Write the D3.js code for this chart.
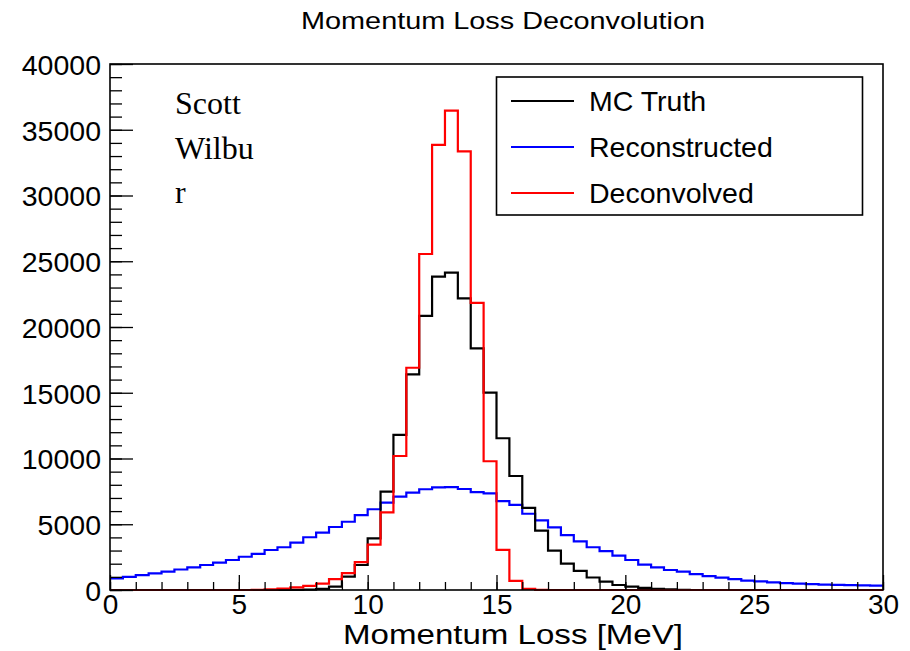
<!DOCTYPE html>
<html><head><meta charset="utf-8">
<script src="https://cdn.jsdelivr.net/npm/d3@7"></script>
<style>
html,body{margin:0;padding:0;background:#fff;}
svg{display:block;}
text{font-family:"Liberation Sans",Arial,Helvetica,sans-serif;fill:#000;}
</style></head>
<body>
<svg id="chart" width="910" height="651"></svg>
<script>
// ---- data ----
const binWidth = 0.5;
const binEdges = d3.range(0, 30, binWidth);   // lower edges of 60 bins, 0..29.5
const mcTruth = [0,0,0,0,0,0,0,0,0,0, 0,0,0,0,10,30,90,260,1010,1900,
  3930,7480,11790,16400,20840,23830,24130,22180,18380,15010,
  11540,8670,6250,4510,3000,2000,1450,950,630,380,
  260,160,80,40,20,0,0,0,0,0, 0,0,0,0,0,0,0,0,0,0];
const reconstructed = [880,1000,1130,1260,1390,1560,1720,1900,2080,2280,
  2530,2740,3040,3250,3600,4010,4360,4790,5190,5700,
  6140,6640,7100,7400,7660,7810,7830,7680,7450,7350,
  6760,6480,5800,5300,4770,4180,3700,3250,2950,2620,
  2280,1930,1720,1520,1390,1200,1050,940,830,720,
  650,580,530,480,450,410,390,370,350,330];
const deconvolved = [0,0,0,0,0,0,0,0,0,0, 0,20,50,110,200,310,480,820,1280,2120,
  3450,5900,10190,16900,25550,33850,36450,33350,21830,9790,
  3050,700,90,10,0,0,0,0,0,0, 0,0,0,0,0,0,0,0,0,0,
  0,0,0,0,0,0,0,0,0,0];
const seriesNames = ["MC Truth","Reconstructed","Deconvolved"];
const seriesColors = ["#000000","#0000ff","#ff0000"];
const xMajorTicks = [0,5,10,15,20,25,30];
const xMinorTicks = d3.range(0,31,1);
const yMajorTicks = [0,5000,10000,15000,20000,25000,30000,35000,40000];
const yMinorTicks = d3.range(0,40001,1000);
const titleText = "Momentum Loss Deconvolution";
const xTitleText = "Momentum Loss [MeV]";
const noteLines = ["Scott","Wilbu","r"];

// ---- layout ----
const svg = d3.select("#chart");
const L = 110, R = 883, T = 64, B = 590;
const x = d3.scaleLinear().domain([0,30]).range([L,R]);
const y = d3.scaleLinear().domain([0,40000]).range([B,T]);

// title
svg.append("text").attr("x",503).attr("y",29).attr("text-anchor","middle")
  .attr("font-size",24).attr("textLength",404).attr("lengthAdjust","spacingAndGlyphs")
  .text(titleText);

// histograms
function stepPoints(vals){
  const pts = binEdges.map((e,i)=>[e, vals[i]]);
  pts.push([30, vals[vals.length-1]]);
  return pts;
}
const line = d3.line().x(d=>x(d[0])).y(d=>y(d[1])).curve(d3.curveStepAfter);
const drawOrder = [[reconstructed,1],[mcTruth,0],[deconvolved,2]];
const g = svg.append("g");
drawOrder.forEach(([vals,ci])=>{
  g.append("path").attr("d", line(stepPoints(vals)))
    .attr("fill","none").attr("stroke",seriesColors[ci]).attr("stroke-width",2.2)
    .attr("stroke-linejoin","miter");
});

// axes: minor ticks
svg.append("g").attr("transform",`translate(${L},0)`)
  .call(d3.axisLeft(y).tickValues(yMinorTicks).tickSize(-12).tickFormat(""))
  .call(a=>a.select(".domain").remove());
svg.append("g").attr("transform",`translate(0,${B})`)
  .call(d3.axisBottom(x).tickValues(xMinorTicks).tickSize(-8).tickFormat(""))
  .call(a=>a.select(".domain").remove());
// major ticks with labels
const yAx = svg.append("g").attr("transform",`translate(${L},0)`)
  .call(d3.axisLeft(y).tickValues(yMajorTicks).tickSize(-23).tickPadding(9).tickFormat(d3.format("d")));
yAx.select(".domain").remove();
yAx.selectAll("text").attr("font-size",28.5).attr("font-family",null).attr("dy","0.36em");
const xAx = svg.append("g").attr("transform",`translate(0,${B})`)
  .call(d3.axisBottom(x).tickValues(xMajorTicks).tickSize(-15).tickPadding(4).tickFormat(d3.format("d")));
xAx.select(".domain").remove();
xAx.selectAll("text").attr("font-size",28).attr("font-family",null);
svg.selectAll(".tick line").attr("stroke","#000").attr("stroke-width",1.3);

// frame
svg.append("rect").attr("x",L).attr("y",T).attr("width",R-L).attr("height",B-T)
  .attr("fill","none").attr("stroke","#000").attr("stroke-width",1.6);

// x title
svg.append("text").attr("x",513).attr("y",644).attr("text-anchor","middle")
  .attr("font-size",27).attr("textLength",340).attr("lengthAdjust","spacingAndGlyphs")
  .text(xTitleText);

// legend
const lg = svg.append("g");
lg.append("rect").attr("x",496.5).attr("y",77).attr("width",366).attr("height",138)
  .attr("fill","#fff").attr("stroke","#000").attr("stroke-width",1.6);
const legRows = [101,147,193];
seriesNames.forEach((n,i)=>{
  lg.append("line").attr("x1",511).attr("x2",574).attr("y1",legRows[i]).attr("y2",legRows[i])
    .attr("stroke",seriesColors[i]).attr("stroke-width",2.2);
  lg.append("text").attr("x",589).attr("y",legRows[i]).attr("dy","0.36em")
    .attr("font-size",28.5).text(n);
});

// note
noteLines.forEach((t,i)=>{
  svg.append("text").attr("x",175).attr("y",114+i*44.5)
    .style("font-family",'"Liberation Serif","Times New Roman",serif')
    .attr("font-size",32).text(t);
});
</script>
</body></html>
